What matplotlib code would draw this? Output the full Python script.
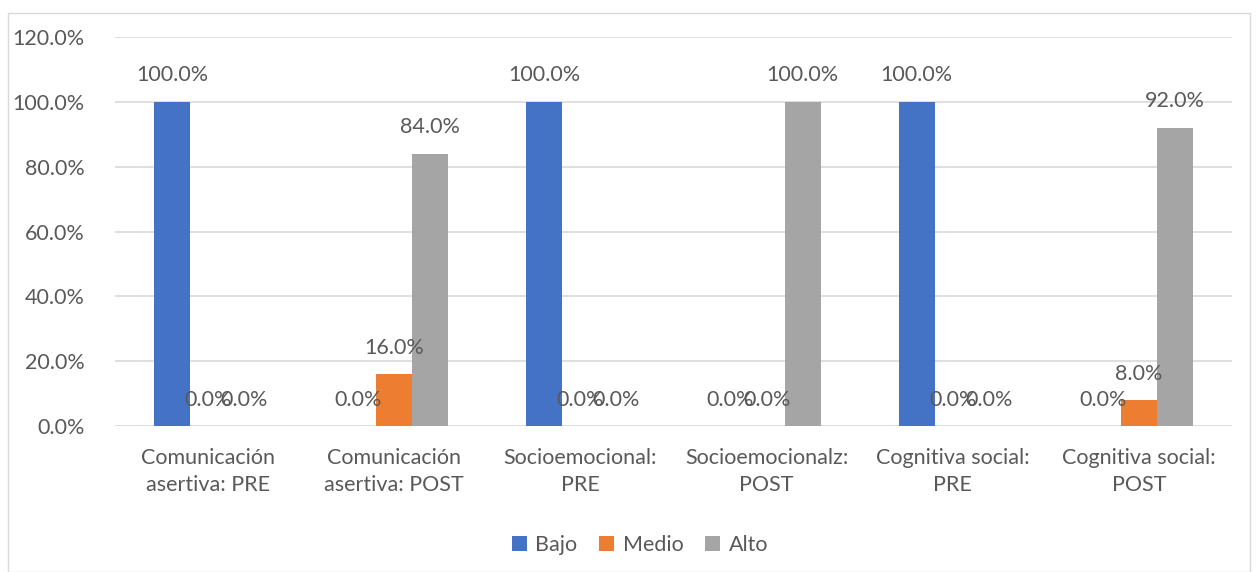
import matplotlib
matplotlib.use("Agg")
import matplotlib.pyplot as plt
import numpy as np
from matplotlib.patches import Rectangle

categories = ["Comunicación\nasertiva: PRE", "Comunicación\nasertiva: POST",
              "Socioemocional:\nPRE", "Socioemocionalz:\nPOST",
              "Cognitiva social:\nPRE", "Cognitiva social:\nPOST"]
series_names = ["Bajo", "Medio", "Alto"]
bajo = [100.0, 0.0, 100.0, 0.0, 100.0, 0.0]
medio = [0.0, 16.0, 0.0, 0.0, 0.0, 8.0]
alto = [0.0, 84.0, 0.0, 100.0, 0.0, 92.0]
colors = ["#4472C4", "#ED7D31", "#A5A5A5"]
yticks = [0, 20, 40, 60, 80, 100, 120]

plt.rcParams['font.family'] = ['Lato', 'DejaVu Sans']
txt = "#595959"
fs = 15.5

fig = plt.figure(figsize=(12.57, 5.72), dpi=100)
fig.patches.append(Rectangle((8/1257, 0.0), (1250-8)/1257, 1-13/572, transform=fig.transFigure,
                             fill=False, edgecolor="#D9D9D9", linewidth=1))
ax = fig.add_axes([115/1257, 1-426/572, (1232-115)/1257, (426-37)/572])

x = np.arange(len(categories))
w = 36/186
for i, (vals, name, c) in enumerate(zip([bajo, medio, alto], series_names, colors)):
    pos = x + (i-1)*w
    ax.bar(pos, vals, width=w, color=c, label=name, zorder=3)
    for px, v in zip(pos, vals):
        ax.annotate(f"{v:.1f}%", (px, v), xytext=(0, 19), textcoords="offset points",
                    ha="center", va="center", fontsize=fs, color=txt, zorder=4)

ax.set_xlim(-0.5, len(categories)-0.5)
ax.set_ylim(0, 120)
ax.set_yticks(yticks)
ax.set_yticklabels([f"{t:.1f}%" for t in yticks], fontsize=fs, color=txt)
ax.set_xticks(x)
ax.set_xticklabels(categories, fontsize=fs, color=txt, linespacing=1.45)
ax.tick_params(axis='both', length=0)
ax.tick_params(axis='x', pad=16)
ax.tick_params(axis='y', pad=22)
ax.grid(axis='y', color="#D9D9D9", linewidth=1.2, zorder=0)
for s in ax.spines.values():
    s.set_visible(False)

leg = fig.legend(loc="center", bbox_to_anchor=(640/1257, 1-545/572), ncol=3, frameon=False,
                 fontsize=fs, handlelength=0.7, handleheight=0.7, columnspacing=1.0,
                 handletextpad=0.4)
for t in leg.get_texts():
    t.set_color(txt)

fig.savefig("out.png", dpi=100)
